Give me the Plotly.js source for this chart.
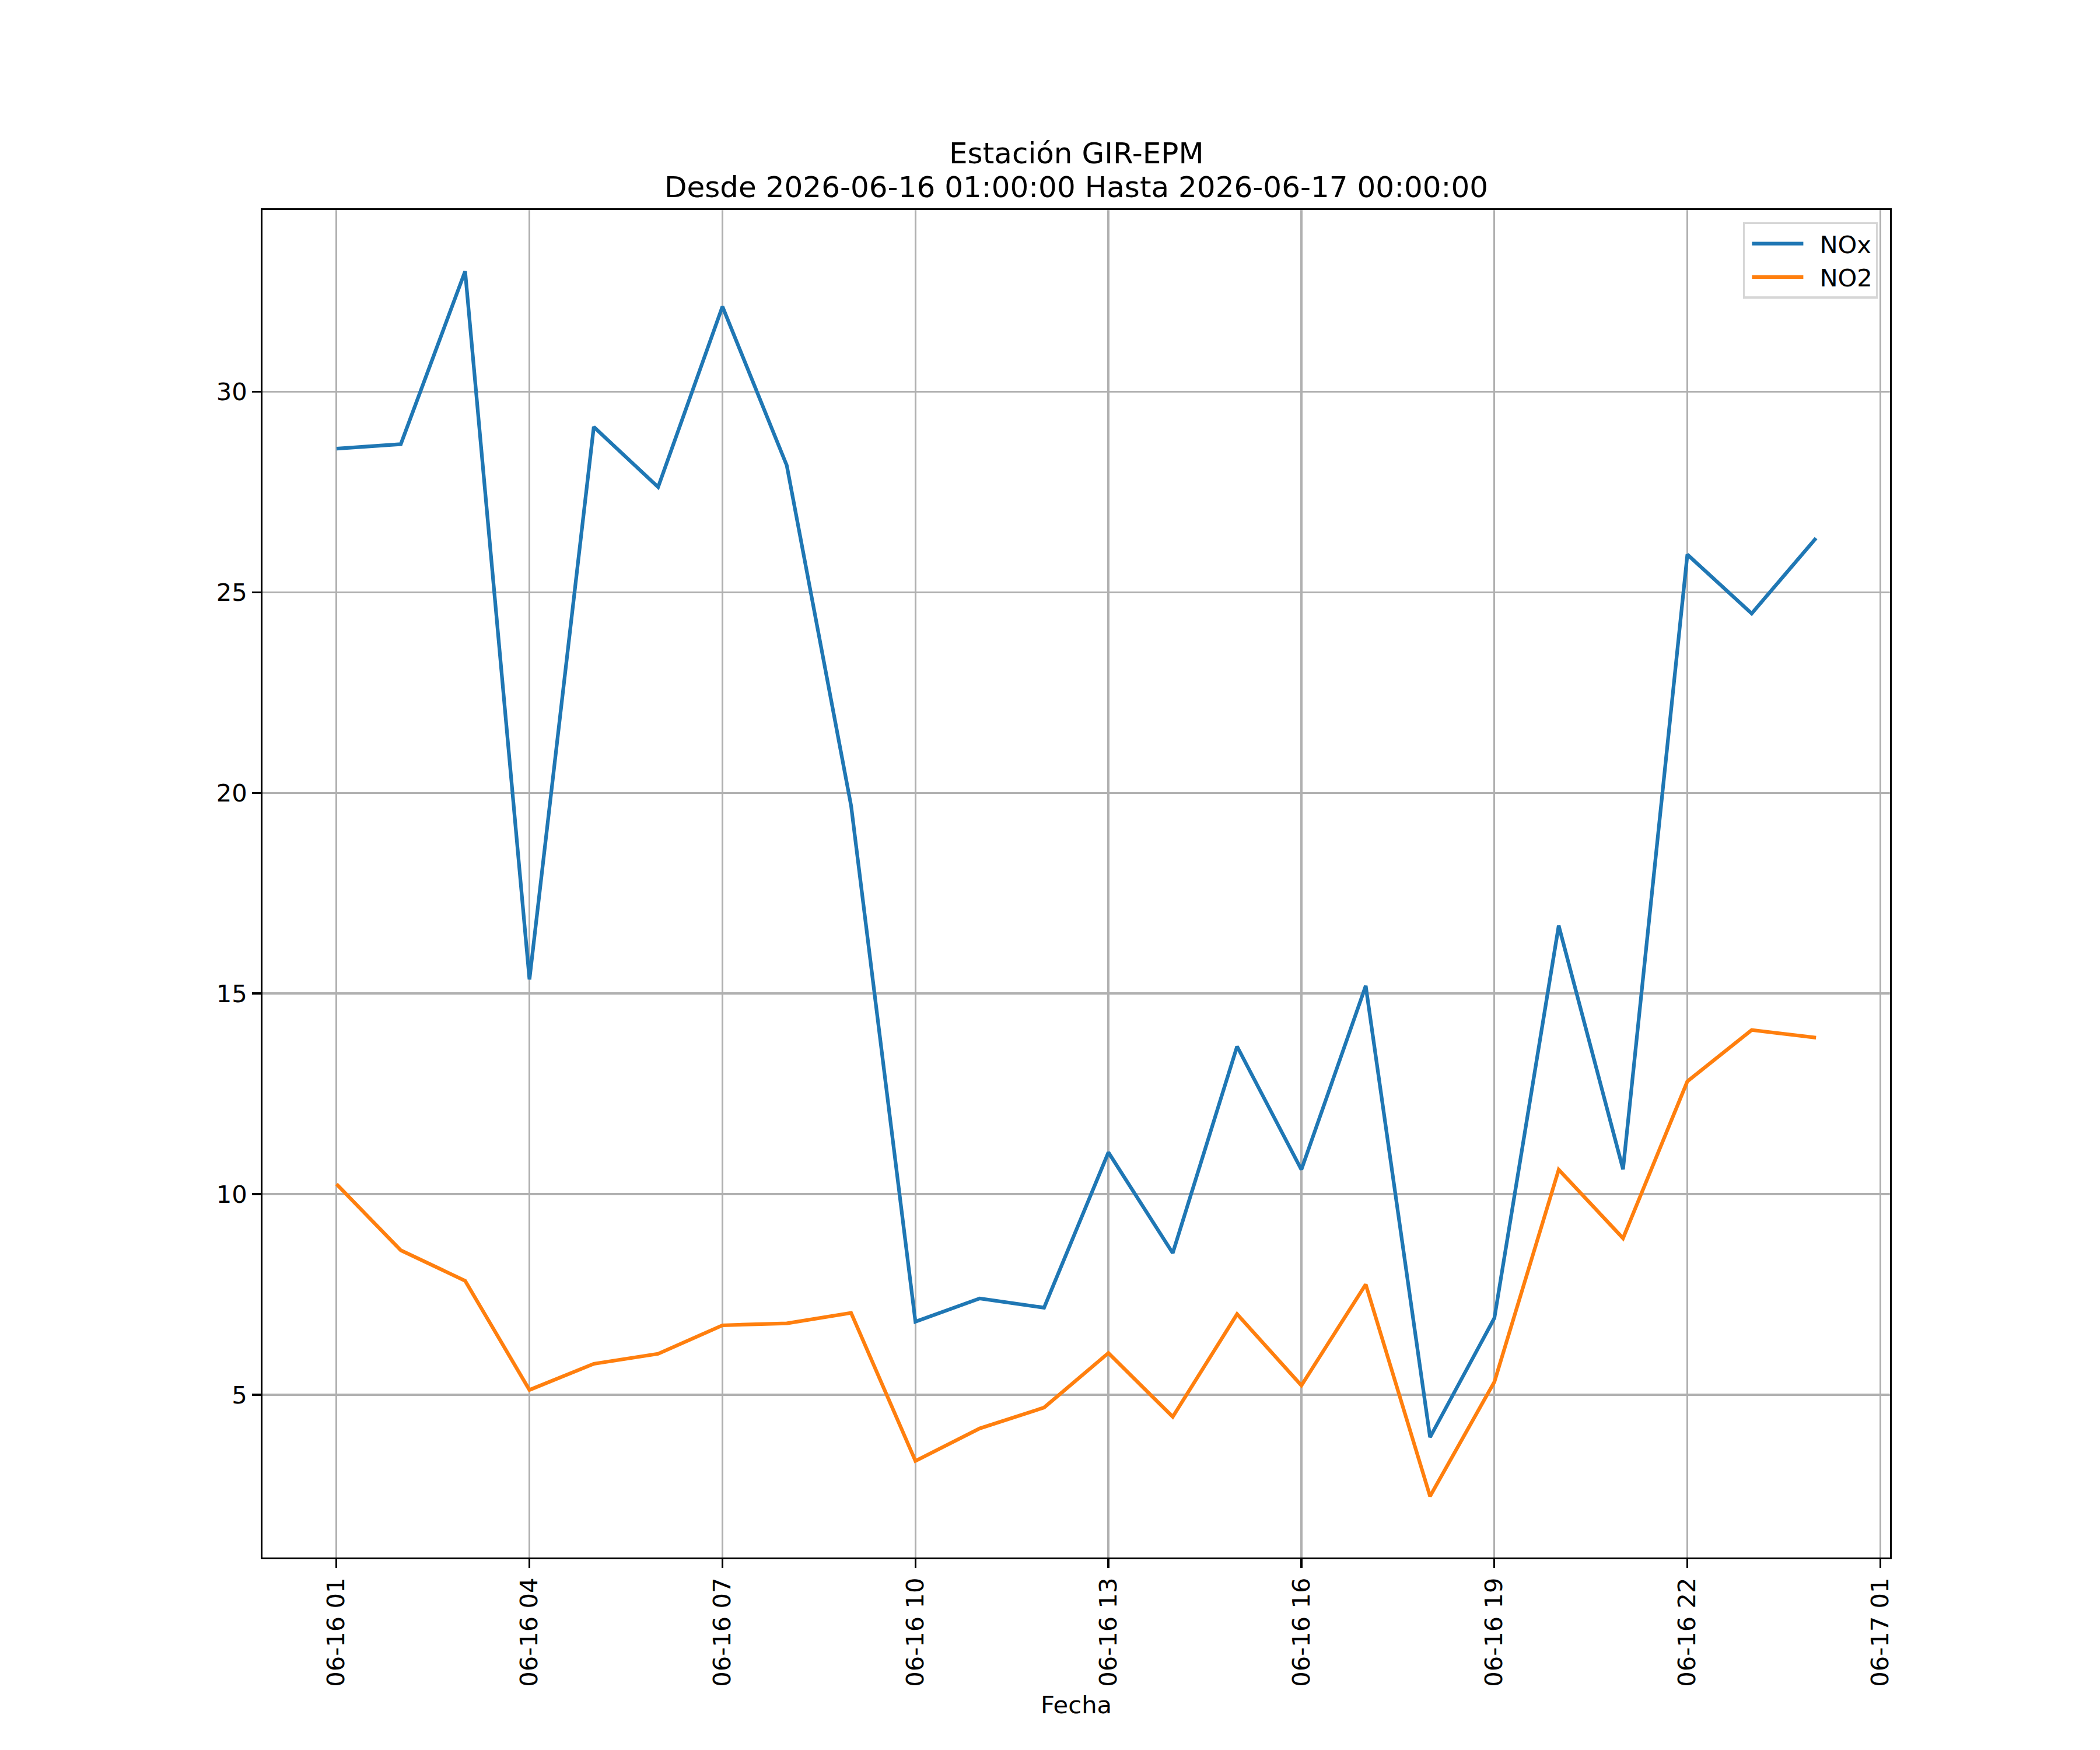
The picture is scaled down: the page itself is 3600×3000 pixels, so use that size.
<!DOCTYPE html>
<html>
<head>
<meta charset="utf-8">
<script src="https://cdn.plot.ly/plotly-3.0.1.min.js"></script>
<style>
  html, body { margin: 0; padding: 0; background: #ffffff; }
  #grafico { width: 3600px; height: 3000px; }
</style>
</head>
<body>
<div id="grafico"></div>
<script>
// Horas de la estación (una medición por hora)
const fechas = [
  '2026-06-16 01:00', '2026-06-16 02:00', '2026-06-16 03:00', '2026-06-16 04:00',
  '2026-06-16 05:00', '2026-06-16 06:00', '2026-06-16 07:00', '2026-06-16 08:00',
  '2026-06-16 09:00', '2026-06-16 10:00', '2026-06-16 11:00', '2026-06-16 12:00',
  '2026-06-16 13:00', '2026-06-16 14:00', '2026-06-16 15:00', '2026-06-16 16:00',
  '2026-06-16 17:00', '2026-06-16 18:00', '2026-06-16 19:00', '2026-06-16 20:00',
  '2026-06-16 21:00', '2026-06-16 22:00', '2026-06-16 23:00', '2026-06-17 00:00',
];
const nox = [28.58, 28.69, 33.0, 15.35, 29.12, 27.62, 32.12, 28.16, 19.68, 6.82, 7.40, 7.17,
  11.04, 8.53, 13.68, 10.61, 15.19, 3.94, 6.91, 16.69, 10.62, 25.94, 24.47, 26.35];
const no2 = [10.25, 8.60, 7.84, 5.12, 5.77, 6.02, 6.73, 6.78, 7.04, 3.35, 4.16, 4.68,
  6.04, 4.45, 7.01, 5.23, 7.75, 2.47, 5.32, 10.61, 8.90, 12.81, 14.09, 13.90];

const tickFechas = ['2026-06-16 01:00', '2026-06-16 04:00', '2026-06-16 07:00', '2026-06-16 10:00',
  '2026-06-16 13:00', '2026-06-16 16:00', '2026-06-16 19:00', '2026-06-16 22:00', '2026-06-17 01:00'];
const tickTextos = ['06-16 01', '06-16 04', '06-16 07', '06-16 10', '06-16 13', '06-16 16',
  '06-16 19', '06-16 22', '06-17 01'];
const yTicks = [5, 10, 15, 20, 25, 30];
const titulo = ['Estación GIR-EPM', 'Desde 2026-06-16 01:00:00 Hasta 2026-06-17 00:00:00'];

const FUENTE = 'DejaVu Sans, sans-serif';
const PT = 300 / 72; // px por punto a 300 dpi

const trazas = [
  { type: 'scatter', mode: 'lines', name: 'NOx', x: fechas, y: nox,
    line: { color: '#1f77b4', width: 1.5 * PT } },
  { type: 'scatter', mode: 'lines', name: 'NO2', x: fechas, y: no2,
    line: { color: '#ff7f0e', width: 1.5 * PT } },
];

// márgenes del 5% como en matplotlib
const todos = nox.concat(no2);
const yMin = Math.min(...todos), yMax = Math.max(...todos);
const yPad = (yMax - yMin) * 0.05;
const t0 = new Date(fechas[0].replace(' ', 'T') + ':00Z').getTime();
const t1 = new Date(fechas[fechas.length - 1].replace(' ', 'T') + ':00Z').getTime();
const xPad = (t1 - t0) * 0.05;
const fmt = (ms) => new Date(ms).toISOString().replace('T', ' ').slice(0, 19);

const eje = {
  showline: true, linecolor: '#000000', linewidth: 0.8 * PT, mirror: true,
  showgrid: true, gridcolor: '#b0b0b0', gridwidth: 0.8 * PT,
  ticks: 'outside', ticklen: 3.5 * PT, tickwidth: 0.8 * PT, tickcolor: '#000000',
  zeroline: false, tickfont: { family: FUENTE, size: 10 * PT, color: '#000000' },
};

// título en dos líneas, con el interlineado de matplotlib
const annotations = titulo.map((t, i) => ({
  text: t, showarrow: false,
  xref: 'paper', x: 0.5, xanchor: 'center',
  yref: 'paper', y: [1.042, 1.0169][i], yanchor: 'middle',
  font: { family: FUENTE, size: 12 * PT, color: '#000000' },
}));

const layout = {
  width: 3600, height: 3000,
  margin: { l: 450, r: 360, t: 360, b: 330, pad: 0 },
  paper_bgcolor: '#ffffff', plot_bgcolor: '#ffffff',
  font: { family: FUENTE, color: '#000000' },
  annotations,
  xaxis: Object.assign({}, eje, {
    type: 'date',
    range: [fmt(t0 - xPad), fmt(t1 + xPad)],
    tickmode: 'array', tickvals: tickFechas, ticktext: tickTextos, tickangle: -90,
    title: { text: 'Fecha', font: { family: FUENTE, size: 10 * PT, color: '#000000' }, standoff: 18 },
  }),
  yaxis: Object.assign({}, eje, {
    range: [yMin - yPad, yMax + yPad],
    tickmode: 'array', tickvals: yTicks,
  }),
  showlegend: true,
  legend: {
    x: 0.9925, y: 0.991, xanchor: 'right', yanchor: 'top',
    bgcolor: 'rgba(255,255,255,0.8)', bordercolor: '#d6d6d6', borderwidth: 0.8 * PT,
    font: { family: FUENTE, size: 10 * PT, color: '#000000' },
    itemwidth: 118, tracegroupgap: 0,
  },
};

Plotly.newPlot('grafico', trazas, layout, { displayModeBar: false, staticPlot: true }).then((gd) => {
  // muestras de línea más largas en la leyenda, como en matplotlib
  gd.querySelectorAll('.legend .legendlines path').forEach((p) => p.setAttribute('d', 'M12,0h88'));
});
</script>
</body>
</html>
